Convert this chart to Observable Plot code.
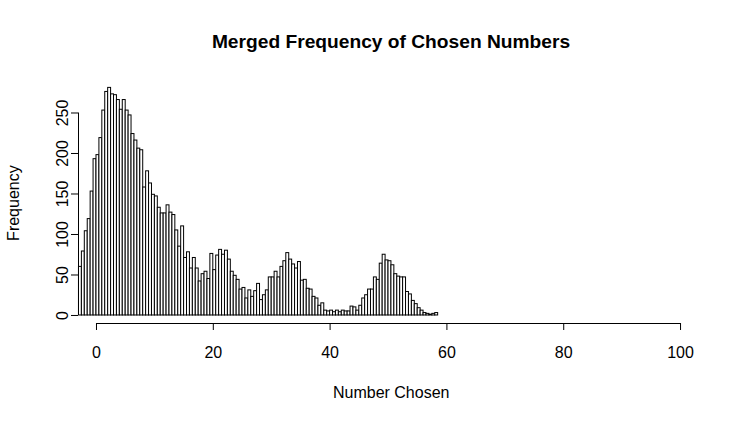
<!DOCTYPE html>
<html>
<head>
<meta charset="utf-8">
<script src="https://cdn.jsdelivr.net/npm/d3@7"></script>
<script src="https://cdn.jsdelivr.net/npm/@observablehq/plot@0.6"></script>
<style>
  html, body { margin: 0; padding: 0; background: white; }
  #wrap { position: relative; width: 744px; }
  #head { position: relative; height: 60px; }
  #title { position: absolute; left: 38px; width: 706px; top: 32px; text-align: center;
           font-family: "Liberation Sans", Arial, sans-serif; font-weight: bold; font-size: 19.2px; line-height: 19.2px; color: black; }
</style>
</head>
<body>
<div id="wrap">
  <div id="head"><div id="title">Merged Frequency of Chosen Numbers</div></div>
  <div id="chart"></div>
</div>
<script>
// Histogram: bins of width 0.5 starting at -3
const binStart = -3;
const binWidth = 0.5;
const counts = [
  60, 79, 104, 119, 153, 193, 198, 219, 253, 276,
  281, 273, 272, 266, 254, 266, 253, 247, 224, 216,
  206, 204, 158, 178, 163, 149, 147, 133, 126, 126,
  136, 127, 124, 105, 85, 110, 71, 78, 58, 71,
  58, 42, 51, 54, 45, 76, 56, 74, 81, 75,
  80, 69, 54, 49, 44, 32, 34, 21, 31, 23,
  30, 39, 19, 25, 31, 47, 47, 54, 47, 60,
  67, 77, 69, 63, 58, 66, 43, 44, 33, 32,
  23, 21, 12, 15, 6, 5, 6, 4, 6, 4,
  6, 5, 5, 11, 10, 6, 12, 21, 25, 32,
  32, 47, 44, 64, 75, 68, 67, 62, 51, 48,
  47, 47, 29, 26, 18, 14, 9, 6, 3, 2,
  1, 2, 3
];
const xTicks = [0, 20, 40, 60, 80, 100];
const yTicks = [0, 50, 100, 150, 200, 250];
const xLabel = "Number Chosen";
const yLabel = "Frequency";

const bins = counts.map((c, i) => ({
  x1: binStart + i * binWidth,
  x2: binStart + (i + 1) * binWidth,
  count: c
}));

const xDomain = [-3.08, 104];
const yDomain = [-9.9, 280];

const chart = Plot.plot({
  width: 744,
  height: 362,
  marginLeft: 78,
  marginRight: 40.6,
  marginTop: 28.2,
  marginBottom: 99,
  x: {domain: xDomain},
  y: {domain: yDomain},
  style: {fontFamily: "'Liberation Sans', Arial, sans-serif", fontSize: "16px", color: "black", background: "white"},
  marks: [
    Plot.rect(bins, {x1: "x1", x2: "x2", y1: 0, y2: "count", fill: "white", stroke: "black", strokeWidth: 1}),
    // x axis
    Plot.ruleY([yDomain[0]], {x1: d3.min(xTicks), x2: d3.max(xTicks), stroke: "black"}),
    Plot.axisX({ticks: xTicks, tickSize: 7, tickPadding: 16, fontSize: 16, label: null, stroke: "black"}),
    // y axis
    Plot.ruleX([xDomain[0]], {y1: d3.min(yTicks), y2: d3.max(yTicks), stroke: "black"}),
    Plot.axisY({ticks: yTicks, tickSize: 7, tickFormat: () => "", label: null, stroke: "black"}),
    Plot.text(yTicks, {y: d => d, text: d => String(d), frameAnchor: "left", textAnchor: "middle", lineAnchor: "middle", rotate: -90, dx: -16, fontSize: 16, fill: "black"}),
    // axis titles
    Plot.text([xLabel], {text: d => d, frameAnchor: "bottom", textAnchor: "middle", lineAnchor: "middle", dy: 69, fontSize: 16, fill: "black"}),
    Plot.text([yLabel], {text: d => d, frameAnchor: "left", textAnchor: "middle", lineAnchor: "middle", rotate: -90, dx: -65, dy: -3, fontSize: 16, fill: "black"})
  ]
});
document.getElementById("chart").appendChild(chart);
</script>
</body>
</html>
